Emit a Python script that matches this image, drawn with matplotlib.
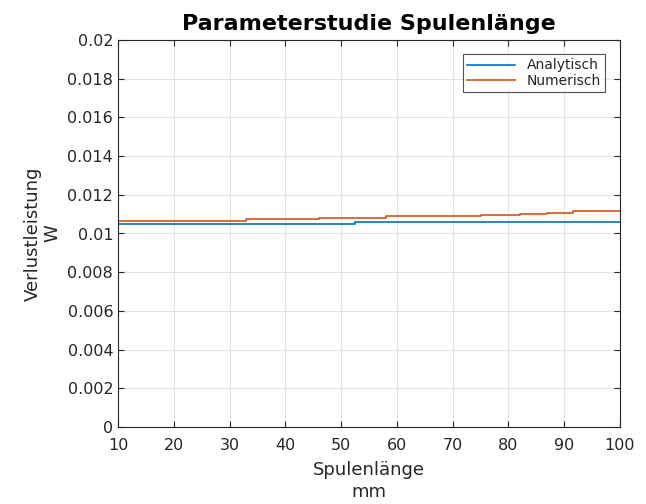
import numpy as np
import matplotlib
matplotlib.use("Agg")
import matplotlib.pyplot as plt

# Werte (Stufenverlauf)
laenge_analytisch = [10, 52.5, 83.5, 100]
verlust_analytisch = [0.01051, 0.01057, 0.01062, 0.01062]

laenge_numerisch = [10, 33, 46, 58, 75, 82, 87, 91.5, 100]
verlust_numerisch = [0.01067, 0.01074, 0.01082, 0.01088, 0.01095,
                     0.01100, 0.01108, 0.01114, 0.01114]

x_ticks = np.arange(10, 101, 10)
y_ticks = np.arange(0, 0.0201, 0.002)
y_ticklabels = ['0', '0.002', '0.004', '0.006', '0.008', '0.01',
                '0.012', '0.014', '0.016', '0.018', '0.02']

text_col = '#262626'
plt.rcParams['font.family'] = ['DejaVu Sans']

fig = plt.figure(figsize=(6.46, 5.04), dpi=100)
ax = fig.add_axes([118 / 646, 77 / 504, 502 / 646, 387 / 504])

ax.plot(laenge_analytisch, verlust_analytisch, color='#0072BD', lw=1.2,
        drawstyle='steps-post', label='Analytisch')
ax.plot(laenge_numerisch, verlust_numerisch, color='#D95319', lw=1.2,
        drawstyle='steps-post', label='Numerisch')

ax.set_xlim(10, 100)
ax.set_ylim(0, 0.02)
ax.set_xticks(x_ticks)
ax.set_yticks(y_ticks)
ax.set_yticklabels(y_ticklabels)
ax.grid(True, color='#e3e3e3', lw=0.8)
ax.set_axisbelow(True)

ax.tick_params(direction='in', top=True, right=True, length=4, width=0.8,
               colors=text_col, labelsize=11.5, labelcolor=text_col)
ax.tick_params(axis='x', pad=8)
for sp in ax.spines.values():
    sp.set_color(text_col)
    sp.set_linewidth(0.8)

ax.set_title('Parameterstudie Spulenlänge', fontsize=16, fontweight='bold',
             color='black', pad=7)
ax.set_xlabel('Spulenlänge\nmm', fontsize=13, color=text_col, labelpad=6,
              linespacing=1.25)
ax.set_ylabel('Verlustleistung\nW', fontsize=13, color=text_col, labelpad=4,
              linespacing=1.1)

leg = ax.legend(loc='upper right', fontsize=10, frameon=True, fancybox=False,
                bbox_to_anchor=(0.97, 0.963), borderaxespad=0, handlelength=3.5,
                borderpad=0.3, labelspacing=0.1)
leg.get_frame().set_edgecolor(text_col)
leg.get_frame().set_linewidth(0.8)
for t in leg.get_texts():
    t.set_color(text_col)

fig.savefig('out.png', dpi=100)
